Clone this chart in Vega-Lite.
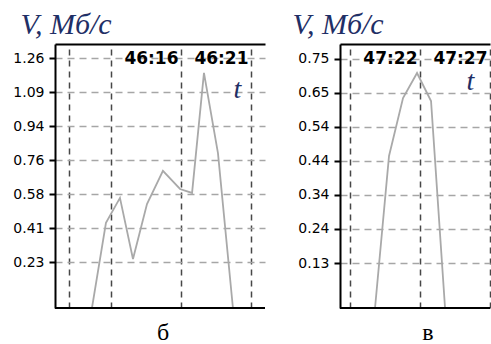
{
  "$schema": "https://vega.github.io/schema/vega-lite/v6.json",
  "background": "white",
  "padding": {"left": 12, "top": 9, "right": 0, "bottom": 0},
  "config": {
    "view": {"stroke": null},
    "concat": {"spacing": 26},
    "axisY": {
      "domainColor": "black", "domainWidth": 2, "tickColor": "black", "tickWidth": 2, "tickSize": 6,
      "labelPadding": 5, "labelFont": "DejaVu Sans", "labelFontSize": 14, "labelColor": "black",
      "grid": true, "gridColor": "#a6a6a6", "gridDash": [7, 5], "gridWidth": 1.5,
      "titleAngle": 0, "titleY": -11, "titleAlign": "left", "titleBaseline": "alphabetic",
      "titleFont": "Liberation Serif", "titleFontStyle": "italic", "titleFontWeight": "normal",
      "titleFontSize": 30, "titleColor": "#1f2f66"
    },
    "axisX": {
      "orient": "top", "ticks": false, "labelPadding": -6, "labelBaseline": "top", "labelAlign": "right",
      "labelOffset": -3, "labelFlush": false, "labelOverlap": false, "labelBound": false,
      "labelFont": "DejaVu Sans", "labelFontWeight": "bold", "labelFontSize": 17, "labelColor": "black",
      "domainColor": "black", "domainWidth": 2, "grid": true, "gridColor": "#474747", "gridDash": [6, 5], "gridWidth": 1.5,
      "titleAlign": "left", "titleBaseline": "alphabetic", "titleFont": "Liberation Serif", "titleFontStyle": "italic",
      "titleFontWeight": "normal", "titleFontSize": 28, "titleColor": "#1f2f66", "titleAngle": 0
    }
  },
  "hconcat": [
    {
      "width": 210, "height": 264,
      "title": {"text": "б", "orient": "bottom", "anchor": "middle", "font": "Liberation Serif", "fontSize": 24, "fontWeight": "normal", "color": "black", "baseline": "alphabetic", "offset": 31, "dx": 3},
      "data": {"values": [
        {"t": 969.64, "v": 0},
        {"t": 970.64, "v": 0.429},
        {"t": 971.64, "v": 0.555},
        {"t": 972.57, "v": 0.247},
        {"t": 973.57, "v": 0.524},
        {"t": 974.71, "v": 0.691},
        {"t": 975.93, "v": 0.600},
        {"t": 976.79, "v": 0.580},
        {"t": 977.64, "v": 1.185},
        {"t": 978.64, "v": 0.781},
        {"t": 979.71, "v": 0}
      ]},
      "layer": [
        {
          "mark": {"type": "line", "color": "#a9a9a9", "strokeWidth": 1.8, "clip": true},
          "encoding": {
            "x": {"field": "t", "type": "quantitative", "scale": {"domain": [967, 982], "nice": false, "zero": false},
              "axis": {"orient": "top", "values": [968, 971, 976, 981], "labelExpr": "datum.value == 976 ? '46:16' : datum.value == 981 ? '46:21' : ''", "title": "t", "titleX": 178, "titleY": 53}},
            "y": {"field": "v", "type": "quantitative", "scale": {"domain": [0, 1.331], "nice": false, "zero": true},
              "axis": {"values": [0.23, 0.40167, 0.57333, 0.745, 0.91667, 1.08833, 1.26], "labelExpr": "['0.23','0.41','0.58','0.76','0.94','1.09','1.26'][round((datum.value-0.23)/0.17167)]", "title": "V, Мб/с", "titleX": -35}}
          }
        },
        {"mark": {"type": "rule", "color": "black", "strokeWidth": 2}, "encoding": {"y": {"datum": 0}}}
      ]
    },
    {
      "width": 150, "height": 264,
      "title": {"text": "в", "orient": "bottom", "anchor": "middle", "font": "Liberation Serif", "fontSize": 24, "fontWeight": "normal", "color": "black", "baseline": "alphabetic", "offset": 31, "dx": 13},
      "data": {"values": [
        {"t": 2838.79, "v": 0},
        {"t": 2839.79, "v": 0.456},
        {"t": 2840.79, "v": 0.630},
        {"t": 2841.79, "v": 0.705},
        {"t": 2842.79, "v": 0.621},
        {"t": 2843.79, "v": 0}
      ]},
      "layer": [
        {
          "mark": {"type": "line", "color": "#a9a9a9", "strokeWidth": 1.8, "clip": true},
          "encoding": {
            "x": {"field": "t", "type": "quantitative", "scale": {"domain": [2836.29, 2847], "nice": false, "zero": false},
              "axis": {"orient": "top", "values": [2837, 2842, 2847], "labelExpr": "datum.value == 2842 ? '47:22' : datum.value == 2847 ? '47:27' : ''", "title": "t", "titleX": 126, "titleY": 45}},
            "y": {"field": "v", "type": "quantitative", "scale": {"domain": [0, 0.792], "nice": false, "zero": true},
              "axis": {"values": [0.135, 0.23715, 0.3393, 0.44145, 0.5436, 0.64575, 0.7479], "labelExpr": "['0.13','0.24','0.34','0.44','0.54','0.65','0.75'][round((datum.value-0.135)/0.10215)]", "title": "V, Мб/с", "titleX": -48}}
          }
        },
        {"mark": {"type": "rule", "color": "black", "strokeWidth": 2}, "encoding": {"y": {"datum": 0}}}
      ]
    }
  ]
}
